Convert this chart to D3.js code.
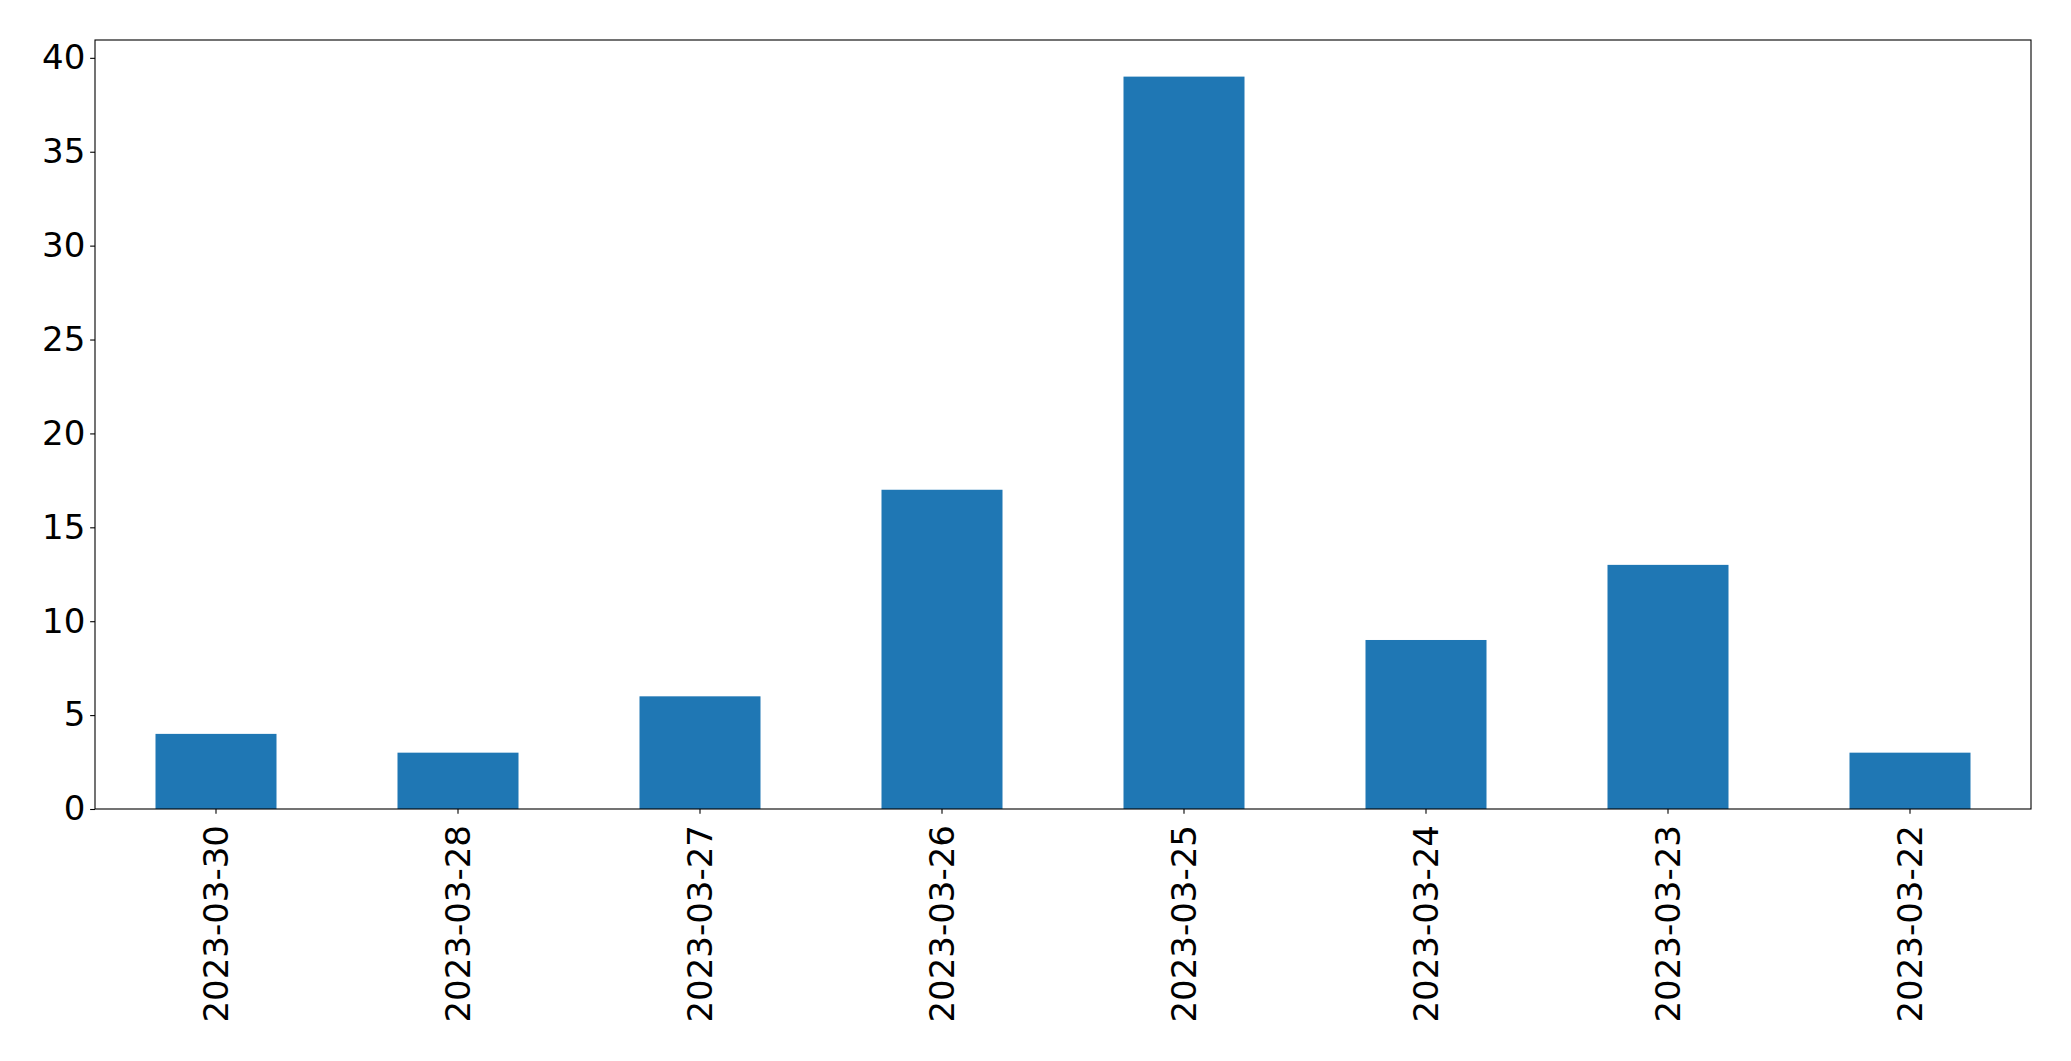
<!DOCTYPE html>
<html>
<head>
<meta charset="utf-8">
<script src="https://cdn.jsdelivr.net/npm/d3@7"></script>
<style>
  body { margin: 0; background: #fff; }
  svg { display: block; font-family: "DejaVu Sans", sans-serif; }
</style>
</head>
<body>
<div id="chart"></div>
<script>
// data
var dates = ["2023-03-30", "2023-03-28", "2023-03-27", "2023-03-26",
             "2023-03-25", "2023-03-24", "2023-03-23", "2023-03-22"];
var counts = [4, 3, 6, 17, 39, 9, 13, 3];
var yTicks = [0, 5, 10, 15, 20, 25, 30, 35, 40];

var W = 2071, H = 1061;
var margin = {left: 95, right: 40, top: 40, bottom: 252};
var fontSize = 34, tickLen = 4.86, pad = 4.86;

var svg = d3.select("#chart").append("svg")
  .attr("width", W)
  .attr("height", H);

var x = d3.scaleBand()
  .domain(dates)
  .range([margin.left, W - margin.right])
  .paddingInner(0.5)
  .paddingOuter(0.25);

var y = d3.scaleLinear()
  .domain([0, d3.max(counts) * 1.05])
  .range([H - margin.bottom, margin.top]);

// bars
svg.selectAll("rect.bar")
  .data(counts)
  .enter().append("rect")
  .attr("class", "bar")
  .attr("x", function(d, i) { return x(dates[i]); })
  .attr("y", function(d) { return y(d); })
  .attr("width", x.bandwidth())
  .attr("height", function(d) { return y(0) - y(d); })
  .attr("fill", "#1f77b4");

// y axis
var yAxis = svg.append("g")
  .attr("transform", "translate(" + margin.left + ",0)")
  .call(d3.axisLeft(y).tickValues(yTicks).tickSize(tickLen).tickPadding(pad));
yAxis.select(".domain").remove();
yAxis.selectAll("text")
  .attr("font-size", fontSize)
  .attr("font-family", "DejaVu Sans")
  .attr("fill", "#000");
yAxis.selectAll("line").attr("stroke", "#000").attr("stroke-width", 1.1);

// x axis
var xAxis = svg.append("g")
  .attr("transform", "translate(0," + (H - margin.bottom) + ")")
  .call(d3.axisBottom(x).tickSize(tickLen).tickPadding(pad));
xAxis.select(".domain").remove();
xAxis.selectAll("line").attr("stroke", "#000").attr("stroke-width", 1.1);
xAxis.selectAll("text")
  .attr("font-size", fontSize)
  .attr("font-family", "DejaVu Sans")
  .attr("fill", "#000")
  .attr("text-anchor", "end")
  .attr("dy", "0.35em")
  .attr("transform", "translate(0,16) rotate(-90)")
  .attr("x", 0)
  .attr("y", 0);

// frame
svg.append("rect")
  .attr("x", margin.left)
  .attr("y", margin.top)
  .attr("width", W - margin.left - margin.right)
  .attr("height", H - margin.top - margin.bottom)
  .attr("fill", "none")
  .attr("stroke", "#000")
  .attr("stroke-width", 1.1);
</script>
</body>
</html>
